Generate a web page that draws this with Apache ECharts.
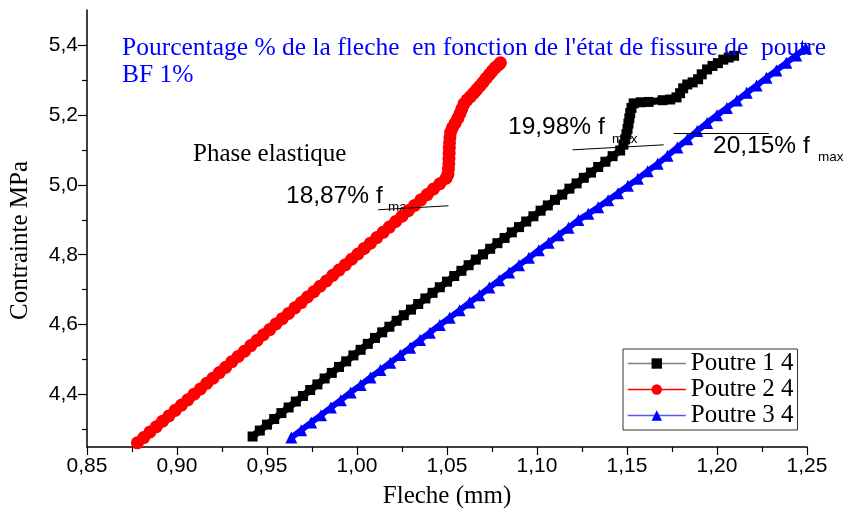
<!DOCTYPE html>
<html><head><meta charset="utf-8">
<script src="https://cdn.jsdelivr.net/npm/echarts@6/dist/echarts.min.js"></script>
<style>html,body{margin:0;padding:0;background:#fff}#c{width:848px;height:513px}</style>
</head><body><div id="c"></div>
<script>
// ---- data (Fleche mm , Contrainte MPa) ----
const poutre1X = [0.942,0.946,0.950,0.954,0.958,0.962,0.966,0.970,0.974,0.978,0.982,0.986,0.990,0.994,0.998,1.002,1.006,1.010,1.014,1.018,1.022,1.026,1.030,1.034,1.038,1.042,1.046,1.050,1.054,1.058,1.062,1.066,1.070,1.074,1.078,1.082,1.086,1.090,1.094,1.098,1.102,1.106,1.110,1.114,1.118,1.122,1.126,1.130,1.134,1.138,1.142,1.1462,1.1480,1.1490,1.1497,1.1503,1.1508,1.1513,1.1518,1.1525,1.1537,1.1576,1.1620,1.1698,1.1740,1.1775,1.1795,1.1812,1.1835,1.1865,1.1895,1.1915,1.1945,1.1975,1.2005,1.2035,1.2065,1.2095];
const poutre1Y = [4.280,4.297,4.314,4.330,4.347,4.363,4.380,4.396,4.413,4.429,4.446,4.462,4.479,4.495,4.512,4.528,4.545,4.562,4.578,4.594,4.611,4.627,4.643,4.659,4.675,4.691,4.707,4.723,4.739,4.754,4.770,4.786,4.801,4.817,4.833,4.848,4.864,4.879,4.895,4.910,4.926,4.941,4.957,4.972,4.989,5.004,5.020,5.035,5.051,5.066,5.082,5.098,5.115,5.130,5.145,5.160,5.175,5.190,5.205,5.220,5.233,5.236,5.237,5.242,5.244,5.250,5.262,5.276,5.287,5.293,5.302,5.316,5.330,5.340,5.348,5.358,5.364,5.369];

const poutre2X = [0.878,0.8815,0.885,0.8885,0.892,0.8955,0.899,0.9025,0.906,0.9095,0.913,0.9165,0.920,0.9235,0.927,0.9305,0.934,0.9375,0.941,0.9445,0.948,0.9515,0.955,0.9585,0.962,0.9655,0.969,0.9725,0.976,0.9795,0.983,0.9865,0.990,0.9935,0.997,1.0005,1.004,1.0075,1.011,1.0145,1.018,1.0215,1.025,1.0285,1.032,1.0355,1.039,1.0425,1.046,1.0495,1.0505,1.0508,1.0510,1.0511,1.0512,1.0513,1.0514,1.0516,1.0520,1.0530,1.0545,1.0560,1.0572,1.0583,1.0595,1.0612,1.0630,1.0648,1.0665,1.0682,1.0700,1.0718,1.0736,1.0752,1.0768,1.0784,1.0797];
const poutre2Y = [4.262,4.277,4.293,4.308,4.324,4.339,4.355,4.370,4.385,4.401,4.416,4.432,4.447,4.463,4.478,4.494,4.509,4.524,4.540,4.555,4.571,4.586,4.602,4.617,4.632,4.648,4.663,4.679,4.694,4.710,4.725,4.741,4.756,4.771,4.787,4.802,4.818,4.833,4.849,4.864,4.879,4.895,4.910,4.926,4.941,4.957,4.972,4.988,5.003,5.019,5.030,5.045,5.060,5.075,5.090,5.105,5.120,5.135,5.150,5.163,5.176,5.190,5.204,5.218,5.232,5.243,5.252,5.262,5.272,5.282,5.293,5.305,5.316,5.326,5.335,5.342,5.349];

const poutre3X = [0.9635,0.9690,0.9745,0.9800,0.9855,0.9910,0.9965,1.0020,1.0075,1.0130,1.0185,1.0240,1.0295,1.0350,1.0405,1.0460,1.0515,1.0570,1.0625,1.0680,1.0735,1.0790,1.0845,1.0900,1.0955,1.1010,1.1065,1.1120,1.1175,1.1230,1.1285,1.1340,1.1395,1.1450,1.1505,1.1560,1.1615,1.1670,1.1725,1.1780,1.1835,1.1890,1.1945,1.2000,1.2055,1.2110,1.2165,1.2220,1.2275,1.2330,1.2385,1.2440,1.2493];
const poutre3Y = [4.277,4.298,4.320,4.341,4.363,4.384,4.406,4.427,4.449,4.470,4.491,4.513,4.534,4.556,4.577,4.599,4.620,4.641,4.663,4.684,4.706,4.727,4.749,4.770,4.791,4.813,4.834,4.856,4.877,4.899,4.917,4.936,4.956,4.976,4.997,5.017,5.039,5.060,5.083,5.107,5.130,5.154,5.177,5.199,5.220,5.241,5.263,5.284,5.306,5.327,5.349,5.370,5.391];

const seriesNames = ['Poutre 1 4','Poutre 2 4','Poutre 3 4'];
const yTicks = [4.4,4.6,4.8,5.0,5.2,5.4];
const yMinorTicks = [4.3,4.5,4.7,4.9,5.1,5.3];
// annotation lines [x1,y1,x2,y2]
const annotLines = [[1.0118,4.9286,1.0508,4.940],[1.1197,5.100,1.1704,5.1143],[1.1759,5.1486,1.2288,5.1486]];

const zip = (xs, ys) => xs.map((x, i) => [x, ys[i]]);
const serif = 'Liberation Serif';
const sans = 'Liberation Sans';

const chart = echarts.init(document.getElementById('c'), null, {renderer: 'canvas'});
chart.setOption({
  animation: false,
  backgroundColor: '#fff',
  title: {
    text: 'Pourcentage % de la fleche  en fonction de l\'état de fissure de  poutre\nBF 1%',
    left: 117, top: 30,
    textStyle: {fontFamily: serif, fontSize: 25.5, fontWeight: 'normal', color: '#0000ff', lineHeight: 27}
  },
  grid: {left: 87, right: 41, top: 10, bottom: 66},
  legend: {
    orient: 'vertical', left: 623, top: 349,
    itemWidth: 58, itemHeight: 13, itemGap: 1,
    padding: [2, 4, 2, 4],
    borderColor: '#333', borderWidth: 1, backgroundColor: '#fff',
    textStyle: {fontFamily: serif, fontSize: 25, color: '#000', lineHeight: 25},
    data: [
      {name: seriesNames[0], lineStyle: {color: '#808080', width: 1.5}},
      {name: seriesNames[1], lineStyle: {color: '#ff0000', width: 1.5}},
      {name: seriesNames[2], lineStyle: {color: '#5555ff', width: 1.5}}
    ]
  },
  xAxis: {
    type: 'value', min: 0.85, max: 1.25, interval: 0.05,
    axisLine: {show: true, onZero: false, lineStyle: {color: '#000', width: 1.5}},
    axisTick: {show: true, inside: false, length: 8, lineStyle: {color: '#000', width: 1.2}},
    minorTick: {show: true, splitNumber: 2, length: 5, lineStyle: {color: '#000', width: 1.2}},
    axisLabel: {fontFamily: sans, fontSize: 21, color: '#000', margin: 9, formatter: v => v.toFixed(2).replace('.', ',')},
    splitLine: {show: false}
  },
  yAxis: [{
    type: 'value', min: 4.25, max: 5.5,
    axisLine: {show: true, onZero: false, lineStyle: {color: '#000', width: 1.5}},
    axisTick: {show: true, inside: false, length: 9, customValues: yTicks, lineStyle: {color: '#000', width: 1.2}},
    axisLabel: {fontFamily: sans, fontSize: 21, color: '#000', margin: 9, customValues: yTicks, formatter: v => v.toFixed(1).replace('.', ',')},
    splitLine: {show: false}
  }, {
    type: 'value', min: 4.25, max: 5.5, position: 'left', offset: 0,
    axisLine: {show: false},
    axisTick: {show: true, inside: false, length: 5, customValues: yMinorTicks, lineStyle: {color: '#000', width: 1.2}},
    axisLabel: {show: false},
    splitLine: {show: false}
  }],
  series: [{
    name: seriesNames[0], type: 'line', data: zip(poutre1X, poutre1Y),
    symbol: 'rect', symbolSize: 10, showSymbol: true, showAllSymbol: true,
    itemStyle: {color: '#000'}, lineStyle: {color: '#000', width: 7}, z: 3,
    markLine: {
      silent: true, symbol: 'none', label: {show: false},
      lineStyle: {color: '#000', width: 1, type: 'solid'},
      data: annotLines.map(a => [{coord: [a[0], a[1]]}, {coord: [a[2], a[3]]}])
    }
  }, {
    name: seriesNames[1], type: 'line', data: zip(poutre2X, poutre2Y),
    symbol: 'circle', symbolSize: 13, showSymbol: true, showAllSymbol: true,
    itemStyle: {color: '#ff0000'}, lineStyle: {color: '#ff0000', width: 10}, z: 3
  }, {
    name: seriesNames[2], type: 'line', data: zip(poutre3X, poutre3Y),
    symbol: 'triangle', symbolSize: 12, showSymbol: true, showAllSymbol: true,
    itemStyle: {color: '#0000ff'}, lineStyle: {color: '#0000ff', width: 6}, z: 3
  }],
  graphic: [
    {type: 'text', x: 447, y: 484, style: {text: 'Fleche (mm)', font: '25px "Liberation Serif"', fill: '#000', align: 'center'}},
    {type: 'text', x: 8, y: 320, rotation: Math.PI / 2, style: {text: 'Contrainte MPa', font: '25px "Liberation Serif"', fill: '#000', verticalAlign: 'top'}},
    {type: 'text', left: 193, top: 142, style: {text: 'Phase elastique', font: '25px "Liberation Serif"', fill: '#000'}},
    {type: 'text', left: 286, top: 184, style: {text: '18,87% f', font: '24.5px "Liberation Sans"', fill: '#000'}},
    {type: 'text', left: 388, top: 200, style: {text: 'max', font: '13.5px "Liberation Sans"', fill: '#000'}},
    {type: 'text', left: 508, top: 115, style: {text: '19,98% f', font: '24.5px "Liberation Sans"', fill: '#000'}},
    {type: 'text', left: 612, top: 132, style: {text: 'max', font: '13.5px "Liberation Sans"', fill: '#000'}},
    {type: 'text', left: 713, top: 134, style: {text: '20,15% f', font: '24.5px "Liberation Sans"', fill: '#000'}},
    {type: 'text', left: 818, top: 150, style: {text: 'max', font: '13.5px "Liberation Sans"', fill: '#000'}}
  ]
});
</script></body></html>
